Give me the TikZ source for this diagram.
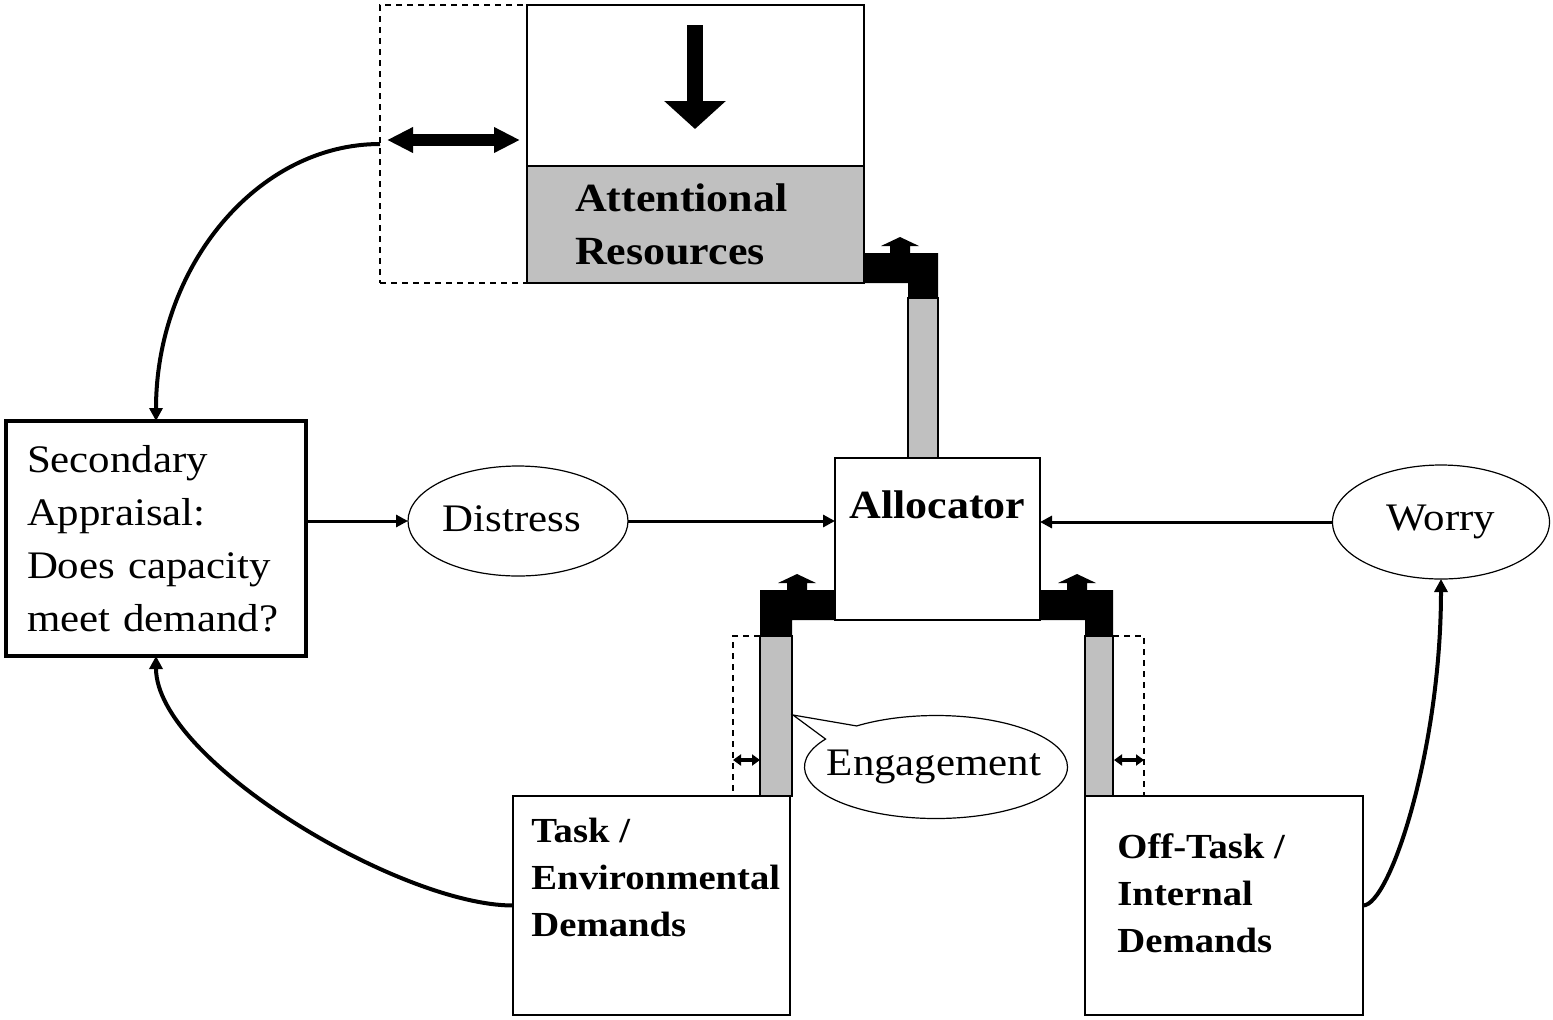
\documentclass[tikz,border=0pt]{standalone}
\usepackage{fontspec}
\setmainfont{Liberation Serif}[FakeStretch=1.1]
\usetikzlibrary{positioning, arrows.meta, shapes.geometric, shapes.callouts}
\definecolor{resgrey}{HTML}{C0C0C0}
\newcommand{\diagfont}{\fontsize{19.5}{26.5}\selectfont}
\newcommand{\headfont}{\fontsize{20}{26.5}\selectfont\bfseries}
\newcommand{\demandfont}{\fontsize{17.6}{23.5}\selectfont\bfseries}
\tikzset{
model box/.style = {
     draw, fill=white,
     line width=1pt,
     anchor=north west,
     inner sep=0pt, outer sep=0pt
   },
slack box/.style = {
     draw, dashed,
     dash pattern=on 3pt off 2.5pt,
     line width=0.7pt,
     anchor=north west,
     inner sep=0pt, outer sep=0pt
   },
state/.style = {
     ellipse, draw, fill=white,
     line width=0.6pt,
     font=\diagfont,
     inner sep=0pt, outer sep=0pt
   },
box text/.style = {
     inner sep=0pt,
     align=left
   },
flow link/.style = {
     -{Triangle[length=6pt,width=6pt]},
     line width=1.5pt
   },
feedback link/.style = {
     -{Triangle[length=6.5pt,width=6.5pt]},
     line width=2pt
   },
slack line/.style = {
     line width=0.7pt,
     dash pattern=on 3pt off 2.5pt
   },
small slack/.style = {
     {Triangle[length=4pt,width=5.5pt]}-{Triangle[length=4pt,width=5.5pt]},
     line width=2pt
   },
pipe/.style = {
     draw, fill=resgrey,
     line width=0.8pt
   }
}
% small up arrow on top of a valve: #1 = centre x, #2 = base y
\def\ValveTip#1#2{%
  \fill (#1-10,#2) -- (#1-10,#2+7) -- (#1-19,#2+7) -- (#1,#2+16)
     -- (#1+19,#2+7) -- (#1+10,#2+7) -- (#1+10,#2) -- cycle;
}
\begin{document}
\begin{tikzpicture}[x=0.5pt, y=0.5pt]
\useasboundingbox (0,0) rectangle (1553,-1019);

% attentional resources
\node[slack box, minimum width=73.5pt, minimum height=139pt] (reserve) at (380,-5) {};
\node[model box, minimum width=168.5pt, minimum height=80.5pt] (pool) at (527,-5) {};
\node[model box, fill=resgrey, minimum width=168.5pt, minimum height=58.5pt,
      text width=120.5pt, inner xsep=24pt, align=left, font=\headfont] (resources) at (527,-166)
      {Attentional\\Resources};
\coordinate (poolTop) at (695,-25);
\coordinate (poolLevel) at (695,-129);
\draw[line width=8pt, -{Triangle[length=14pt,width=30pt]}] (poolTop) -- (poolLevel);
\coordinate (reserveL) at (387,-140);
\coordinate (reserveR) at (520,-140);
\draw[line width=6pt, {Triangle[length=13pt,width=12pt]}-{Triangle[length=13pt,width=12pt]}] (reserveL) -- (reserveR);

% appraisal and states
\node[model box, line width=1.8pt, minimum width=150pt, minimum height=117.5pt,
      text width=129pt, inner xsep=10.5pt, align=left, font=\diagfont] (appraisal) at (6,-421)
      {Secondary\\Appraisal:\\Does capacity\\meet demand?};
\node[state, minimum width=110pt, minimum height=55pt] (distress) at (518,-521) {};
\node[box text, font=\diagfont] (distressLabel) at (512,-519) {Distress};
\node[state, minimum width=108.5pt, minimum height=57pt] (worry) at (1441,-522) {Worry};

% allocator
\node[model box, minimum width=102.5pt, minimum height=81pt] (alloc) at (835,-458) {};
\node[box text, font=\headfont, below=16pt of alloc.north] (allocLabel) {Allocator};

% demands
\node[model box, minimum width=138.5pt, minimum height=109.5pt] (task) at (513,-796) {};
\node[box text, font=\demandfont, below right=11pt and 9pt of task.north west] (taskLabel)
      {Task /\\Environmental\\Demands};
\node[model box, minimum width=139pt, minimum height=109.5pt] (offtask) at (1085,-796) {};
\node[box text, font=\demandfont, below right=18.5pt and 16pt of offtask.north west] (offtaskLabel)
      {Off-Task /\\Internal\\Demands};

% valves and pipes
\fill (864,-253) -- (938,-253) -- (938,-298) -- (908,-298) -- (908,-283) -- (864,-283) -- cycle;
\draw[pipe] (908,-298) rectangle (938,-458);
\ValveTip{900}{-253}
\fill (760,-590) -- (835,-590) -- (835,-620) -- (792,-620) -- (792,-636) -- (760,-636) -- cycle;
\draw[pipe] (760,-636) rectangle (792,-796);
\ValveTip{797}{-590}
\fill (1040,-590) -- (1113,-590) -- (1113,-636) -- (1085,-636) -- (1085,-620) -- (1040,-620) -- cycle;
\draw[pipe] (1085,-636) rectangle (1113,-796);
\ValveTip{1077}{-590}

\draw[slack line] (760,-636) -- (733,-636) -- (733,-796);
\draw[slack line] (1113,-636) -- (1144,-636) -- (1144,-796);
\coordinate (taskSlackL) at (733,-760);
\coordinate (taskSlackR) at (760,-760);
\coordinate (offSlackL) at (1114,-760);
\coordinate (offSlackR) at (1144,-760);
\draw[small slack] (taskSlackL) -- (taskSlackR);
\draw[small slack] (offSlackL) -- (offSlackR);

% engagement
\coordinate (engTip) at (793,-715);
\node[state, ellipse callout, callout absolute pointer={(engTip)}, callout pointer arc=20,
      minimum width=131.5pt, minimum height=51.5pt] (engagement) at (936,-767) {};
\node[box text, font=\diagfont] (engLabel) at (934,-767) {Engagement};

% links
\draw[flow link] (appraisal.east |- distress.west) -- (distress.west);
\draw[flow link] (distress.east) -- (alloc.west |- distress.east);
\draw[flow link] (worry.west) -- (alloc.east |- worry.west);
\draw[feedback link] (reserve.west) .. controls +(-123,0) and +(0,154) .. (appraisal.north);
\draw[feedback link] (task.west) .. controls +(-113,0) and +(0,-104) .. (appraisal.south);
\draw[feedback link] (offtask.east) .. controls +(27,0) and +(0,-170) .. (worry.south);
\end{tikzpicture}
\end{document}
